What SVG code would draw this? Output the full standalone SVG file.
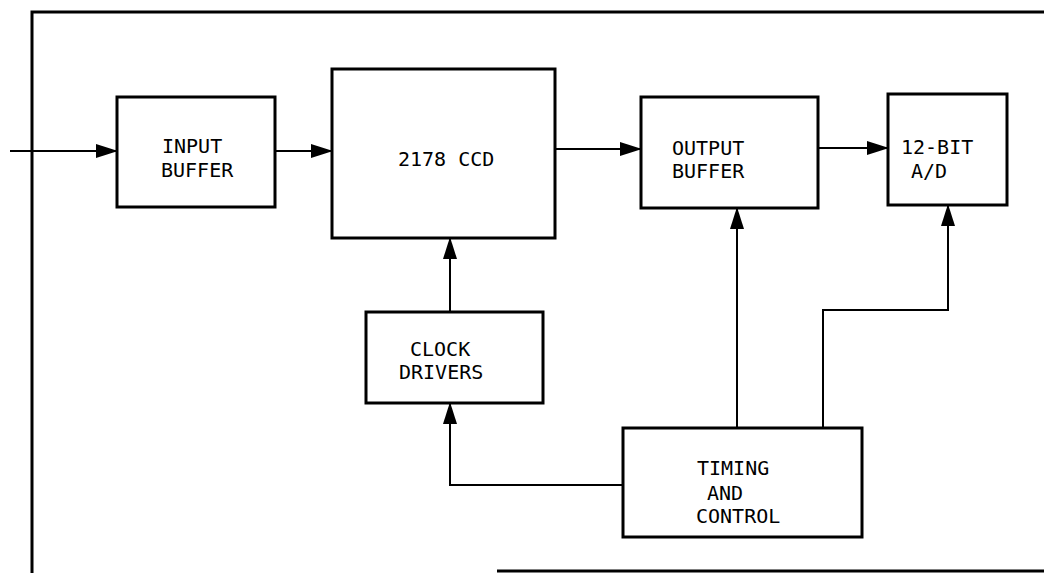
<svg xmlns="http://www.w3.org/2000/svg" width="1044" height="573" viewBox="0 0 1044 573">
<style>
.box{fill:#fff;stroke:#000;stroke-width:3}
.frame{fill:none;stroke:#000;stroke-width:3}
.conn{fill:none;stroke:#000;stroke-width:2}
.lbl{font-family:"DejaVu Sans Mono","Liberation Mono",monospace;font-size:20px;fill:#000}
</style>
<defs>
<marker id="arr" markerUnits="userSpaceOnUse" markerWidth="22" markerHeight="16" refX="21" refY="8" orient="auto">
<path d="M0,1 L22,8 L0,15 Z" fill="#000"/>
</marker>
</defs>
<rect width="1044" height="573" fill="#fff"/>
<g id="frame">
<polyline class="frame" points="1044,12 32,12 32,573"/>
<line class="frame" x1="497" y1="571" x2="1044" y2="571"/>
</g>
<g id="connectors">
<line class="conn" x1="10" y1="151" x2="117" y2="151" marker-end="url(#arr)"/>
<line class="conn" x1="275" y1="151" x2="332" y2="151" marker-end="url(#arr)"/>
<line class="conn" x1="555" y1="149" x2="641" y2="149" marker-end="url(#arr)"/>
<line class="conn" x1="818" y1="148" x2="888" y2="148" marker-end="url(#arr)"/>
<line class="conn" x1="450" y1="312" x2="450" y2="238" marker-end="url(#arr)"/>
<polyline class="conn" points="623,485 450,485 450,403" marker-end="url(#arr)"/>
<line class="conn" x1="737" y1="428" x2="737" y2="208" marker-end="url(#arr)"/>
<polyline class="conn" points="823,428 823,310 948,310 948,205" marker-end="url(#arr)"/>
</g>
<g id="input-buffer">
<rect class="box" x="117" y="97" width="158" height="110"/>
<text class="lbl" x="162" y="153">INPUT</text>
<text class="lbl" x="161" y="177">BUFFER</text>
</g>
<g id="ccd">
<rect class="box" x="332" y="69" width="223" height="169"/>
<text class="lbl" x="398" y="166">2178 CCD</text>
</g>
<g id="output-buffer">
<rect class="box" x="641" y="97" width="177" height="111"/>
<text class="lbl" x="672" y="155">OUTPUT</text>
<text class="lbl" x="672" y="178">BUFFER</text>
</g>
<g id="ad">
<rect class="box" x="888" y="94" width="119" height="111"/>
<text class="lbl" x="901" y="154">12-BIT</text>
<text class="lbl" x="911" y="178">A/D</text>
</g>
<g id="clock-drivers">
<rect class="box" x="366" y="312" width="177" height="91"/>
<text class="lbl" x="410" y="356">CLOCK</text>
<text class="lbl" x="399" y="379">DRIVERS</text>
</g>
<g id="timing-control">
<rect class="box" x="623" y="428" width="239" height="109"/>
<text class="lbl" x="697" y="475">TIMING</text>
<text class="lbl" x="707" y="500">AND</text>
<text class="lbl" x="696" y="523">CONTROL</text>
</g>
</svg>
